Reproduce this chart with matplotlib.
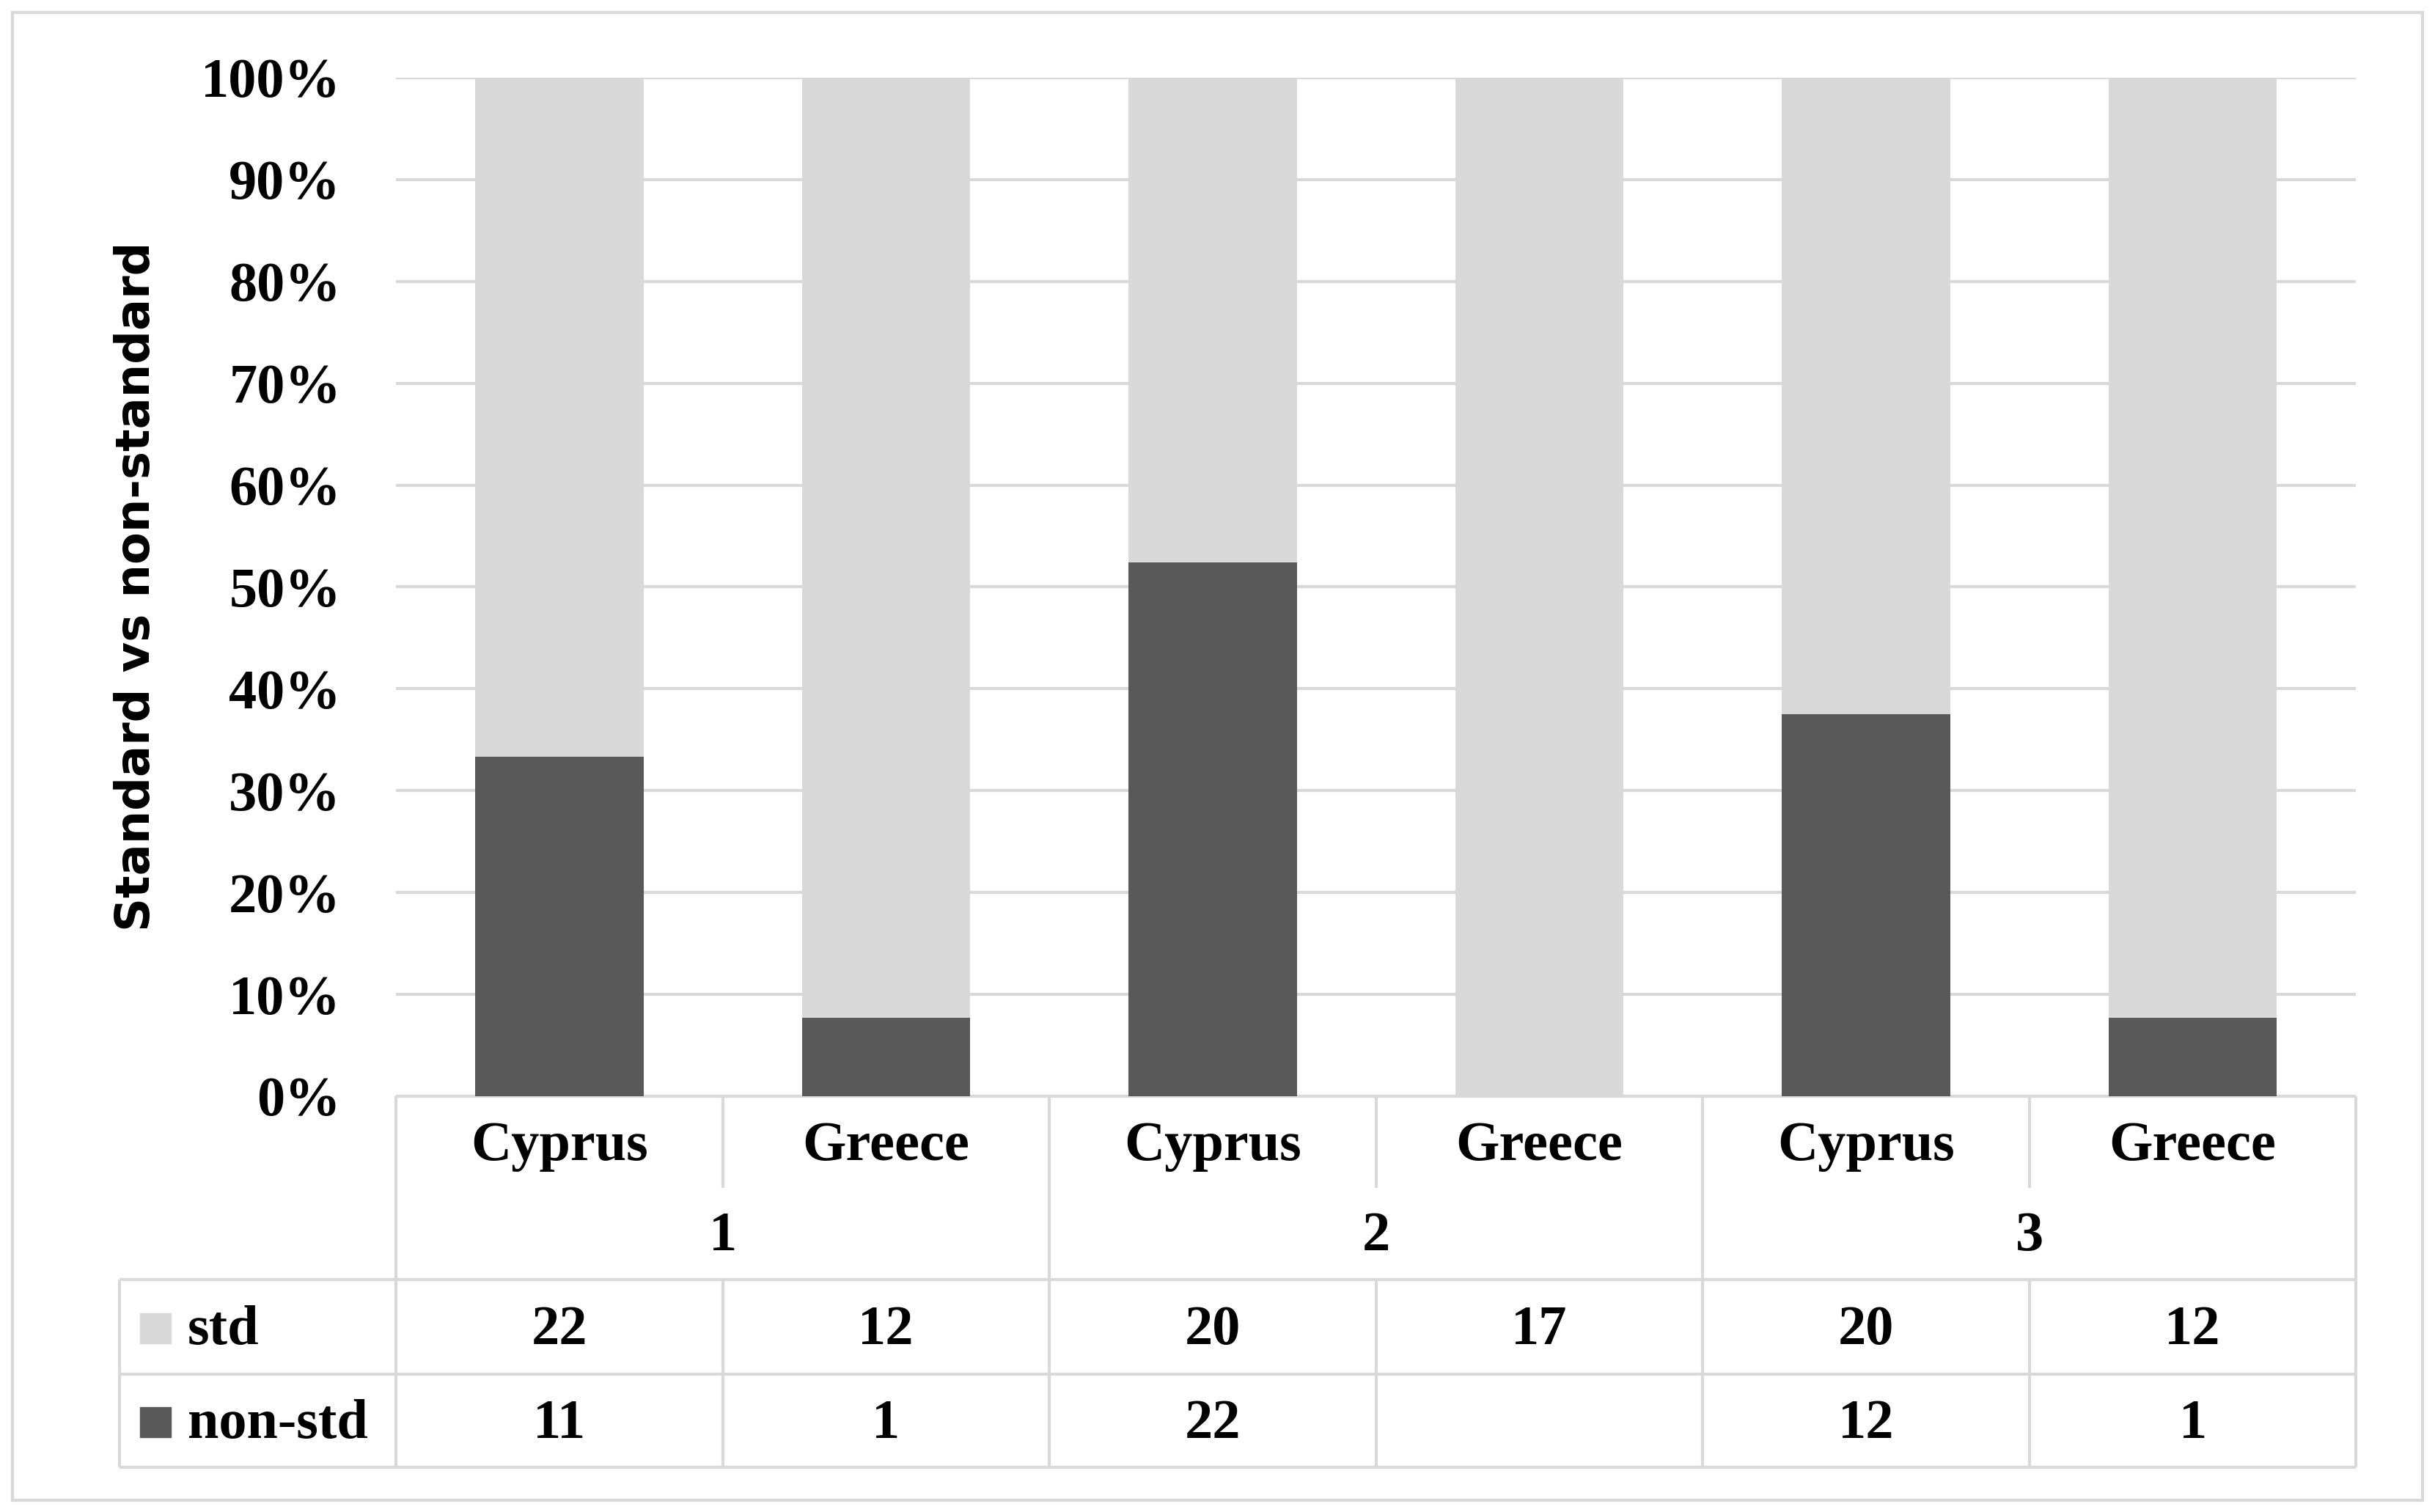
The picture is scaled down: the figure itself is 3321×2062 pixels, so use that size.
import matplotlib
matplotlib.use("Agg")
from matplotlib import pyplot as plt
from matplotlib.patches import Rectangle

# data
countries = ["Cyprus", "Greece", "Cyprus", "Greece", "Cyprus", "Greece"]
groups = ["1", "2", "3"]
std = [22, 12, 20, 17, 20, 12]
non_std = [11, 1, 22, None, 12, 1]

light = "#d9d9d9"
dark = "#595959"
serif = "Liberation Serif"
fs = 55

totals = [s + (n or 0) for s, n in zip(std, non_std)]
pct_non = [100 * (n or 0) / t for n, t in zip(non_std, totals)]
pct_std = [100 * s / t for s, t in zip(std, totals)]

fig = plt.figure(figsize=(33.21, 20.62), dpi=100)
ax = fig.add_axes([0.1626, 0.275, 0.805, 0.6736])

x = list(range(len(countries)))
ax.bar(x, pct_non, width=0.515, color=dark, zorder=3)
ax.bar(x, pct_std, width=0.515, bottom=pct_non, color=light, zorder=3)

ax.set_xlim(-0.5, 5.5)
ax.set_ylim(0, 100)
ax.set_yticks(range(0, 101, 10))
ax.set_yticklabels([f"{v}%" for v in range(0, 101, 10)], fontfamily=serif,
                   fontweight="bold", fontsize=fs)
ax.tick_params(axis="y", length=0, pad=54)
ax.set_xticks([])
for s in ax.spines.values():
    s.set_visible(False)
for v in range(10, 101, 10):
    ax.axhline(v, color=light, lw=3, zorder=1)

# data table under the bars
lw = 3
r1, r2, r3 = -18.0, -27.3, -36.4
tx0 = -1.346


def line(xs, ys):
    ax.plot(xs, ys, color=light, lw=lw, clip_on=False, solid_capstyle="butt", zorder=2)


line([-0.5, 5.5], [0, 0])
for yy in (r1, r2, r3):
    line([tx0, 5.5], [yy, yy])
line([tx0, tx0], [r1, r3])
for xx in (-0.5, 1.5, 3.5, 5.5):
    line([xx, xx], [0, r3])
for xx in (0.5, 2.5, 4.5):
    line([xx, xx], [0, -9.0])
    line([xx, xx], [r1, r3])

tkw = dict(fontfamily=serif, fontweight="bold", fontsize=fs, ha="center",
           va="center", clip_on=False)
for i, c in enumerate(countries):
    ax.text(i, -4.9, c, **tkw)
for g, lab in enumerate(groups):
    ax.text(2 * g + 0.5, -13.8, lab, **tkw)
for i in x:
    ax.text(i, -23.0, str(std[i]), **tkw)
    if non_std[i] is not None:
        ax.text(i, -32.2, str(non_std[i]), **tkw)

for yy, lab, col in ((-22.8, "std", light), (-32.0, "non-std", dark)):
    ax.add_patch(Rectangle((-1.284, yy - 1.5), 0.094, 3.0, color=col, clip_on=False))
    ax.text(-1.137, yy - 0.2, lab, fontfamily=serif, fontweight="bold", fontsize=fs,
            ha="left", va="center", clip_on=False)

fig.text(186 / 3321, 1 - 800 / 2062, "Standard vs non-standard", rotation=90,
         fontfamily="DejaVu Sans", fontweight="bold", fontsize=46,
         ha="center", va="center")

fig.add_artist(Rectangle((17 / 3321, 1 - 2046 / 2062), (3304 - 17) / 3321,
                         (2046 - 17) / 2062, transform=fig.transFigure,
                         fill=False, edgecolor=light, lw=3))

fig.savefig("out.png", dpi=100, facecolor="white")
